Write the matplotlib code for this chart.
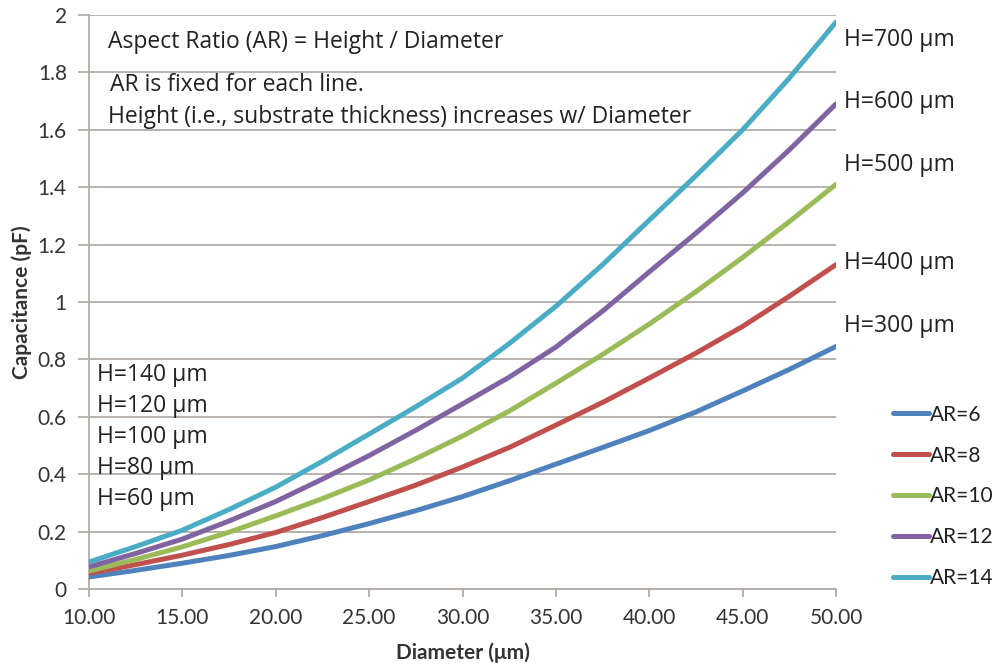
import numpy as np
import matplotlib
matplotlib.use('Agg')
import matplotlib.pyplot as plt
from matplotlib.ticker import FormatStrFormatter, FuncFormatter

# diameter (um) and capacitance (pF)
diameter = [10, 12.5, 15, 17.5, 20, 22.5, 25, 27.5, 30, 32.5, 35, 37.5, 40, 42.5, 45, 47.5, 50]
cap_ar6 = [0.042, 0.065, 0.090, 0.117, 0.148, 0.186, 0.228, 0.273, 0.322, 0.377, 0.435,
           0.493, 0.552, 0.617, 0.690, 0.765, 0.845]
cap_ar8 = [0.055, 0.085, 0.118, 0.155, 0.197, 0.249, 0.305, 0.362, 0.425, 0.493, 0.571,
           0.650, 0.735, 0.822, 0.915, 1.020, 1.130]
cap_ar10 = [0.063, 0.103, 0.147, 0.198, 0.255, 0.315, 0.380, 0.454, 0.533, 0.620, 0.717,
            0.817, 0.923, 1.036, 1.155, 1.280, 1.410]
cap_ar12 = [0.077, 0.124, 0.174, 0.237, 0.305, 0.383, 0.465, 0.553, 0.645, 0.738, 0.843,
            0.968, 1.105, 1.240, 1.380, 1.530, 1.690]
cap_ar14 = [0.094, 0.148, 0.205, 0.277, 0.355, 0.445, 0.540, 0.635, 0.735, 0.855, 0.985,
            1.130, 1.285, 1.440, 1.600, 1.780, 1.975]

series = [cap_ar6, cap_ar8, cap_ar10, cap_ar12, cap_ar14]
labels = ['AR=6', 'AR=8', 'AR=10', 'AR=12', 'AR=14']
colors = ['#4f81bd', '#c0504d', '#9bbb59', '#8064a2', '#4bacc6']

right_notes = ['H=700 \u03bcm', 'H=600 \u03bcm', 'H=500 \u03bcm', 'H=400 \u03bcm', 'H=300 \u03bcm']
right_y = [1.913, 1.697, 1.477, 1.136, 0.916]
left_notes = ['H=140 \u03bcm', 'H=120 \u03bcm', 'H=100 \u03bcm', 'H=80 \u03bcm', 'H=60 \u03bcm']
left_y = [0.746, 0.638, 0.530, 0.422, 0.314]

grid_c = '#b3aca8'
tick_font = 'Lato'
note_font = 'Open Sans'
note_size = 16.5

fig = plt.figure(figsize=(9.97, 6.66), dpi=100)
ax = fig.add_axes([0.0893, 0.1156, 0.7492, 0.8619])

for ys, lab, c in zip(series, labels, colors):
    ax.plot(diameter, ys, color=c, linewidth=3.6, label=lab, solid_capstyle='round',
            solid_joinstyle='round', zorder=3)

ax.set_xlim(10, 50)
ax.set_ylim(0, 2)
ax.set_xticks(np.arange(10, 51, 5))
ax.set_yticks(np.arange(0, 2.01, 0.2))
ax.xaxis.set_major_formatter(FormatStrFormatter('%.2f'))
ax.yaxis.set_major_formatter(FuncFormatter(lambda v, p: '%g' % round(v, 1)))
ax.grid(axis='y', color=grid_c, linewidth=1.3, zorder=1)
ax.set_axisbelow(True)

for s in ['top', 'right']:
    ax.spines[s].set_visible(False)
for s in ['left', 'bottom']:
    ax.spines[s].set_color(grid_c)
    ax.spines[s].set_linewidth(1.3)

ax.tick_params(axis='y', length=8, width=1.3, color=grid_c, labelsize=15,
               labelcolor='#333333', pad=8)
ax.tick_params(axis='x', length=6, width=1.3, color=grid_c, labelsize=15,
               labelcolor='#333333', pad=8)
for t in ax.get_xticklabels() + ax.get_yticklabels():
    t.set_fontfamily(tick_font)

ax.set_xlabel('Diameter (\u03bcm)', fontsize=15, fontweight='bold', family=tick_font,
              color='#333333', labelpad=10)
ax.set_ylabel('Capacitance (pF)', fontsize=15, fontweight='bold', family=tick_font,
              color='#333333', labelpad=4)

ax.text(11.02, 1.906, 'Aspect Ratio (AR) = Height / Diameter', fontsize=note_size,
        family=note_font, color='#222222', va='center', ha='left')
ax.text(11.1, 1.756, 'AR is fixed for each line.', fontsize=note_size,
        family=note_font, color='#222222', va='center', ha='left')
ax.text(11.02, 1.645, 'Height (i.e., substrate thickness) increases w/ Diameter', fontsize=note_size,
        family=note_font, color='#222222', va='center', ha='left')

for txt, y in zip(right_notes, right_y):
    ax.text(50.45, y, txt, fontsize=note_size, family=note_font, color='#222222',
            va='center', ha='left', clip_on=False)
for txt, y in zip(left_notes, left_y):
    ax.text(10.43, y, txt, fontsize=note_size, family=note_font, color='#222222',
            va='center', ha='left')

leg = ax.legend(loc='upper left', bbox_to_anchor=(1.076, 0.321), frameon=False,
                handlelength=1.75, handletextpad=0.05, labelspacing=1.0, borderpad=0,
                prop={'family': tick_font, 'size': 15}, borderaxespad=0)
for t in leg.get_texts():
    t.set_color('#222222')

fig.savefig('out.png', dpi=100)
